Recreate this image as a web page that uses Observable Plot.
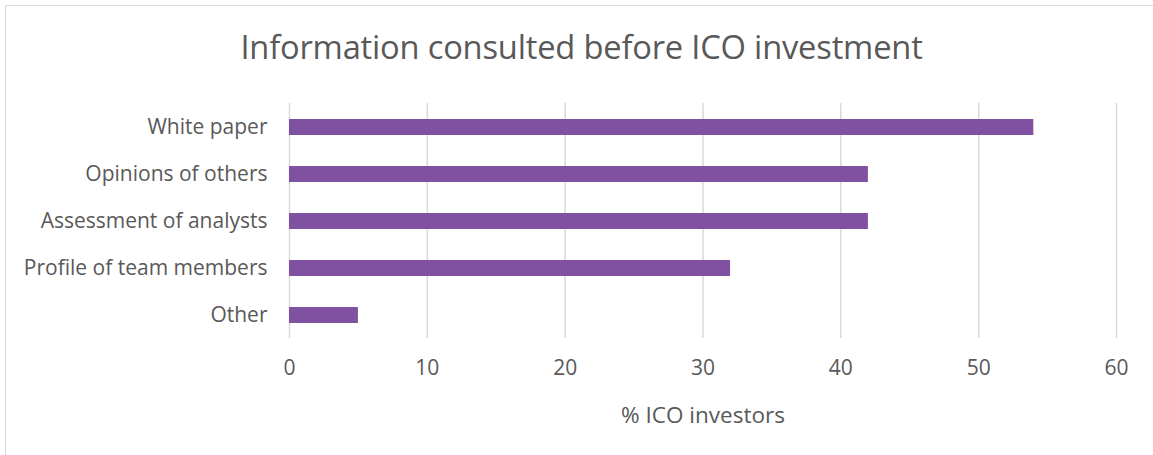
<!DOCTYPE html>
<html>
<head>
<meta charset="utf-8">
<script src="https://cdn.jsdelivr.net/npm/d3@7"></script>
<script src="https://cdn.jsdelivr.net/npm/@observablehq/plot@0.6"></script>
<style>
  html, body { margin: 0; padding: 0; background: #fff; }
  #wrap { position: relative; width: 1153px; height: 455px; overflow: hidden; font-family: "Open Sans", sans-serif; }
  #frame { position: absolute; left: 5px; top: 5px; width: 1160px; height: 470px; border-left: 1.5px solid #d9d9d9; border-top: 1.5px solid #d9d9d9; box-sizing: border-box; }
  #title { position: absolute; left: 0; width: 1163px; top: 31px; text-align: center; font-size: 32.7px; color: #595959; line-height: 1; letter-spacing: -0.2px; }
  #chart { position: absolute; left: 0; top: 0; }
</style>
</head>
<body>
<div id="wrap">
  <div id="frame"></div>
  <div id="title">Information consulted before ICO investment</div>
  <div id="chart"></div>
</div>
<script>
const categories = ["White paper", "Opinions of others", "Assessment of analysts", "Profile of team members", "Other"];
const values = [54, 42, 42, 32, 5];
const xTicks = [0, 10, 20, 30, 40, 50, 60];
const xLabel = "% ICO investors";

const data = categories.map((c, i) => ({category: c, value: values[i]}));

const chart = Plot.plot({
  width: 1153,
  height: 455,
  marginTop: 103,
  marginBottom: 117,
  marginLeft: 289,
  marginRight: 37,
  style: { fontFamily: "Open Sans, sans-serif", fontSize: "21px", color: "#595959", background: "transparent" },
  x: { domain: [0, 60] },
  y: { domain: categories, paddingInner: 0.66, paddingOuter: 0.33 },
  marks: [
    Plot.gridX(xTicks, { stroke: "#d9d9d9", strokeOpacity: 1, strokeWidth: 1.5 }),
    Plot.barX(data, { x: "value", y: "category", fill: "#8151a1" }),
    Plot.axisY({ tickSize: 0, tickPadding: 22, label: null, fontSize: 21, fill: "#595959" }),
    Plot.axisX({ ticks: xTicks, tickSize: 0, tickPadding: 22, fontSize: 21, fill: "#595959", label: null }),
    Plot.axisX({ ticks: [], tickSize: 0, fontSize: 22.5, fill: "#595959",
      label: xLabel, labelAnchor: "center", labelArrow: "none", labelOffset: 84 })
  ]
});
document.getElementById("chart").appendChild(chart);
</script>
</body>
</html>
